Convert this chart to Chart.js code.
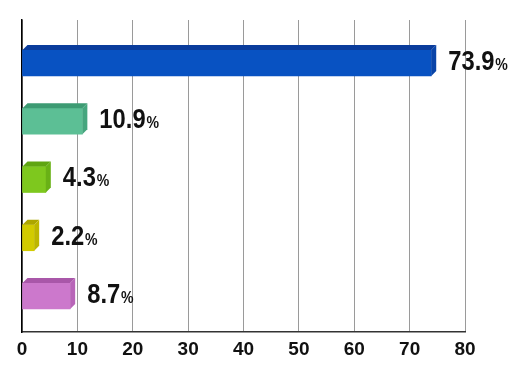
<!DOCTYPE html>
<html>
<head>
<meta charset="utf-8">
<script src="https://cdn.jsdelivr.net/npm/chart.js@4/dist/chart.umd.min.js"></script>
<style>
  html, body { margin: 0; padding: 0; background: #fff; }
  #wrap { width: 520px; height: 372px; }
</style>
</head>
<body>
<div id="wrap"><canvas id="myChart"></canvas></div>
<script>
// Data
const categories = ['A', 'B', 'C', 'D', 'E'];
const values = [73.9, 10.9, 4.3, 2.2, 8.7];
const xTicks = [0, 10, 20, 30, 40, 50, 60, 70, 80];

// Face colours for the fake 3D bars
const frontColors = ['#0852c2', '#5cbf95', '#7ec81e', '#d2cb00', '#cc78cc'];
const topColors   = ['#0a3c9c', '#3d9b73', '#5fa512', '#ada600', '#a957a9'];
const sideColors  = ['#0944a8', '#46a67e', '#69b116', '#bdb600', '#b865b8'];

const FONT = "'Liberation Sans', Arial, sans-serif";

// draws top + side faces, then the value labels
const bar3d = {
  id: 'bar3d',
  afterDatasetsDraw(chart) {
    const ctx = chart.ctx;
    const meta = chart.getDatasetMeta(0);
    const d = 5;
    ctx.save();
    meta.data.forEach((bar, i) => {
      const p = bar.getProps(['x', 'y', 'base', 'height'], true);
      const top = p.y - p.height / 2, bot = p.y + p.height / 2;

      ctx.fillStyle = topColors[i];
      ctx.beginPath();
      ctx.moveTo(p.base, top);
      ctx.lineTo(p.base + d, top - d);
      ctx.lineTo(p.x + d, top - d);
      ctx.lineTo(p.x, top);
      ctx.closePath();
      ctx.fill();

      ctx.fillStyle = sideColors[i];
      ctx.beginPath();
      ctx.moveTo(p.x, top);
      ctx.lineTo(p.x + d, top - d);
      ctx.lineTo(p.x + d, bot - d);
      ctx.lineTo(p.x, bot);
      ctx.closePath();
      ctx.fill();

      // value label, squeezed a little to look like the narrow original font
      const num = values[i].toFixed(1);
      ctx.save();
      ctx.translate(p.x + 17, p.y + 7);
      ctx.scale(0.88, 1);
      ctx.fillStyle = '#111';
      ctx.textBaseline = 'alphabetic';
      ctx.textAlign = 'left';
      ctx.font = 'bold 27px ' + FONT;
      ctx.fillText(num, 0, 0);
      const w = ctx.measureText(num).width;
      ctx.font = 'bold 16px ' + FONT;
      ctx.fillText('%', w + 1, 0);
      ctx.restore();
    });
    ctx.restore();
  }
};

new Chart(document.getElementById('myChart'), {
  type: 'bar',
  data: {
    labels: categories,
    datasets: [{
      data: values.map((v, i) => ({ x: v, y: i })),
      backgroundColor: frontColors,
      borderWidth: 0,
      barThickness: 26
    }]
  },
  options: {
    indexAxis: 'y',
    responsive: true,
    maintainAspectRatio: false,
    animation: false,
    layout: { padding: { top: 20, right: 55, left: 0, bottom: 0 } },
    plugins: { legend: { display: false }, tooltip: { enabled: false } },
    scales: {
      x: {
        type: 'linear',
        min: xTicks[0],
        max: xTicks[xTicks.length - 1],
        afterBuildTicks: s => { s.ticks = xTicks.map(v => ({ value: v })); },
        afterFit: s => { s.height = 40; },
        ticks: {
          color: '#111',
          padding: 6,
          font: { family: FONT, size: 19, weight: 'bold' }
        },
        grid: { color: '#9a9a9a', lineWidth: 1, drawTicks: false },
        border: { color: '#333', width: 1.5 }
      },
      y: {
        type: 'linear',
        reverse: true,
        offset: false,
        min: -0.738,
        max: 4.618,
        afterFit: s => { s.width = 22; },
        ticks: { display: false },
        grid: { display: false, offset: false },
        border: { color: '#000', width: 1.5 }
      }
    }
  },
  plugins: [bar3d]
});
</script>
</body>
</html>
